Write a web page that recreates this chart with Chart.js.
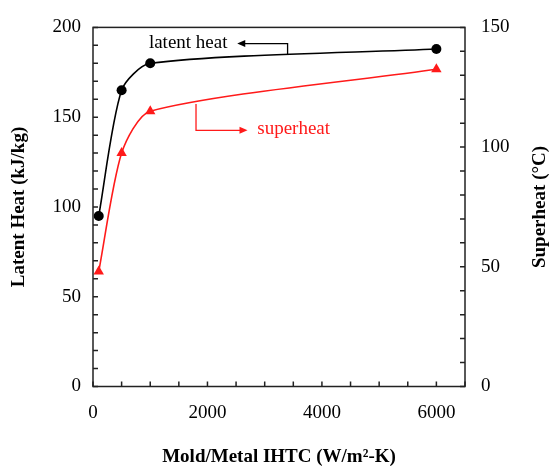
<!DOCTYPE html>
<html>
<head>
<meta charset="utf-8">
<script src="https://cdn.jsdelivr.net/npm/chart.js@4.4.0/dist/chart.umd.min.js"></script>
<style>
html,body{margin:0;padding:0;background:#fff;}
#wrap{width:550px;height:468px;}
</style>
</head>
<body>
<div id="wrap"><canvas id="c" width="550" height="468"></canvas></div>
<script>
// ---- data ----
const ihtc = [100, 500, 1000, 6000];
const latentHeat = [95, 165, 180, 188];
const superheat = [48, 97.5, 115, 132.5];
const xTickLabels = [0, 2000, 4000, 6000];
const leftTickLabels = [0, 50, 100, 150, 200];
const rightTickLabels = [0, 50, 100, 150];
const xTitle = 'Mold/Metal IHTC (W/m²-K)';
const leftTitle = 'Latent Heat (kJ/kg)';
const rightTitle = 'Superheat (°C)';
const latentLabel = 'latent heat';
const superLabel = 'superheat';
// annotation anchors (data units)
const latentNote = {xCurve: 3400, yCurve: 185, yLine: 191, xArrow: 2520, xText: 2350};
const superNote = {xCurve: 1800, yCurve: 118, yLine: 107, xArrow: 2700, xText: 2870};

const SERIF = '"Liberation Serif", "DejaVu Serif", serif';
const tickFont = {family: SERIF, size: 19};

const frameAndTicks = {
  id: 'frameAndTicks',
  afterDatasetsDraw(chart) {
    const {ctx, chartArea: a, scales} = chart;
    ctx.save();
    ctx.strokeStyle = '#222';
    ctx.lineWidth = 1.5;
    ctx.strokeRect(a.left, a.top, a.right - a.left, a.bottom - a.top);
    const L = 5;
    ctx.beginPath();
    scales.x.ticks.forEach(t => {
      const p = scales.x.getPixelForValue(t.value);
      ctx.moveTo(p, a.bottom); ctx.lineTo(p, a.bottom - L);
    });
    scales.y.ticks.forEach(t => {
      const p = scales.y.getPixelForValue(t.value);
      ctx.moveTo(a.left, p); ctx.lineTo(a.left + L, p);
    });
    scales.y1.ticks.forEach(t => {
      const p = scales.y1.getPixelForValue(t.value);
      ctx.moveTo(a.right, p); ctx.lineTo(a.right - L, p);
    });
    ctx.stroke();
    ctx.restore();
  }
};

function arrowHead(ctx, x, y, dir, color) {
  ctx.fillStyle = color;
  ctx.beginPath();
  ctx.moveTo(x, y);
  ctx.lineTo(x - dir * 8, y - 3.5);
  ctx.lineTo(x - dir * 8, y + 3.5);
  ctx.closePath();
  ctx.fill();
}

const notes = {
  id: 'notes',
  afterDatasetsDraw(chart) {
    const {ctx, scales, chartArea: a} = chart;
    const x = scales.x, y = scales.y, y1 = scales.y1;
    ctx.save();
    ctx.lineWidth = 1.3;
    // latent heat
    let cx = x.getPixelForValue(latentNote.xCurve);
    let cy = y.getPixelForValue(latentNote.yCurve);
    let ly = y.getPixelForValue(latentNote.yLine);
    let ax = x.getPixelForValue(latentNote.xArrow);
    ctx.strokeStyle = '#000';
    ctx.beginPath();
    ctx.moveTo(cx, cy); ctx.lineTo(cx, ly); ctx.lineTo(ax + 6, ly);
    ctx.stroke();
    arrowHead(ctx, ax, ly, -1, '#000');
    ctx.fillStyle = '#000';
    ctx.font = '19px ' + SERIF;
    ctx.textAlign = 'right';
    ctx.textBaseline = 'middle';
    ctx.fillText(latentLabel, x.getPixelForValue(latentNote.xText), ly - 1);
    // superheat
    cx = x.getPixelForValue(superNote.xCurve);
    cy = y1.getPixelForValue(superNote.yCurve);
    ly = y1.getPixelForValue(superNote.yLine);
    ax = x.getPixelForValue(superNote.xArrow);
    ctx.strokeStyle = '#ff1a1a';
    ctx.beginPath();
    ctx.moveTo(cx, cy); ctx.lineTo(cx, ly); ctx.lineTo(ax - 6, ly);
    ctx.stroke();
    arrowHead(ctx, ax, ly, 1, '#ff1a1a');
    ctx.fillStyle = '#ff1a1a';
    ctx.textAlign = 'left';
    ctx.fillText(superLabel, x.getPixelForValue(superNote.xText), ly - 1);
    // right axis title (reads bottom to top)
    ctx.fillStyle = '#000';
    ctx.font = 'bold 19px ' + SERIF;
    ctx.textAlign = 'center';
    ctx.translate(540, (a.top + a.bottom) / 2);
    ctx.rotate(-Math.PI / 2);
    ctx.fillText(rightTitle, 0, 0);
    ctx.restore();
  }
};

new Chart(document.getElementById('c'), {
  type: 'line',
  data: {
    datasets: [
      {
        label: 'Latent Heat',
        data: ihtc.map((v, i) => ({x: v, y: latentHeat[i]})),
        yAxisID: 'y',
        borderColor: '#000',
        backgroundColor: '#000',
        borderWidth: 1.6,
        pointStyle: 'circle',
        pointRadius: 5,
        pointBorderWidth: 0,
        tension: 0.25,
        fill: false
      },
      {
        label: 'Superheat',
        data: ihtc.map((v, i) => ({x: v, y: superheat[i]})),
        yAxisID: 'y1',
        borderColor: '#ff1a1a',
        backgroundColor: '#ff1a1a',
        borderWidth: 1.6,
        pointStyle: 'triangle',
        pointRadius: 6,
        pointBorderWidth: 0,
        tension: 0.25,
        fill: false
      }
    ]
  },
  options: {
    responsive: false,
    animation: false,
    layout: {padding: {top: 15, right: 0, left: 0, bottom: 0}},
    plugins: {legend: {display: false}, tooltip: {enabled: false}},
    scales: {
      x: {
        type: 'linear',
        min: 0, max: 6500,
        grid: {display: false, drawTicks: false},
        border: {display: false},
        ticks: {
          stepSize: 500, autoSkip: false, maxRotation: 0,
          color: '#000', font: tickFont, padding: 15,
          callback: v => xTickLabels.includes(v) ? String(v) : ''
        },
        title: {display: true, text: xTitle, color: '#000',
          font: {family: SERIF, size: 19, weight: 'bold'}, padding: {top: 6, bottom: 0}},
        afterFit(s) { s.height = 81.5; }
      },
      y: {
        position: 'left',
        min: 0, max: 200,
        grid: {display: false, drawTicks: false},
        border: {display: false},
        ticks: {
          stepSize: 10, autoSkip: false,
          color: '#000', font: tickFont, padding: 12,
          callback: v => leftTickLabels.includes(v) ? String(v) : ''
        },
        title: {display: true, text: leftTitle, color: '#000',
          font: {family: SERIF, size: 19, weight: 'bold'}, padding: {top: 8, bottom: 0}},
        afterFit(s) { s.width = 93; }
      },
      y1: {
        position: 'right',
        min: 0, max: 150,
        grid: {display: false, drawTicks: false},
        border: {display: false},
        ticks: {
          stepSize: 10, autoSkip: false,
          color: '#000', font: tickFont, padding: 16,
          callback: v => rightTickLabels.includes(v) ? String(v) : ''
        },
        afterFit(s) { s.width = 85; }
      }
    }
  },
  plugins: [frameAndTicks, notes]
});
</script>
</body>
</html>
